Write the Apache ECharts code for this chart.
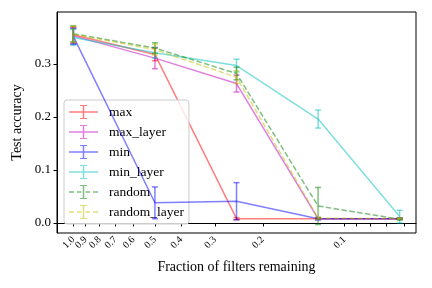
<!DOCTYPE html>
<html>
<head>
<meta charset="utf-8">
<script src="https://cdn.jsdelivr.net/npm/echarts@6/dist/echarts.min.js"></script>
<style>html,body{margin:0;padding:0;background:#fff}#c{width:432px;height:288px}</style>
</head>
<body>
<div id="c"></div>
<script>
const fractions = [1, 0.5, 0.25, 0.125, 0.0625];
const seriesNames = ['max', 'max_layer', 'min', 'min_layer', 'random', 'random_layer'];
const maxVals = [0.355, 0.318, 0.008, 0.008, 0.008];
const maxErr = [0.015, 0.012, 0.002, 0.001, 0.001];
const maxLayerVals = [0.353, 0.311, 0.263, 0.008, 0.008];
const maxLayerErr = [0.015, 0.020, 0.016, 0.002, 0.001];
const minVals = [0.352, 0.038, 0.041, 0.008, 0.008];
const minErr = [0.015, 0.030, 0.035, 0.002, 0.001];
const minLayerVals = [0.350, 0.321, 0.297, 0.196, 0.012];
const minLayerErr = [0.015, 0.010, 0.012, 0.017, 0.012];
const randomVals = [0.357, 0.330, 0.282, 0.032, 0.007];
const randomErr = [0.015, 0.010, 0.012, 0.035, 0.002];
const randomLayerVals = [0.356, 0.327, 0.275, 0.009, 0.008];
const randomLayerErr = [0.015, 0.010, 0.012, 0.002, 0.001];
const xTickValues = [1.0, 0.9, 0.8, 0.7, 0.6, 0.5, 0.4, 0.3, 0.2, 0.1, 0.09, 0.08, 0.07, 0.06];
const xLabelValuesA = [1.0, 0.8, 0.6, 0.4, 0.2];
const xLabelValuesB = [0.9, 0.7, 0.5, 0.3, 0.1];
const yTickValues = [0.0, 0.1, 0.2, 0.3];

const allVals = [maxVals, maxLayerVals, minVals, minLayerVals, randomVals, randomLayerVals];
const allErr = [maxErr, maxLayerErr, minErr, minLayerErr, randomErr, randomLayerErr];
const colors = ['rgba(255,0,0,0.5)', 'rgba(191,0,191,0.5)', 'rgba(0,0,255,0.5)',
                'rgba(0,191,191,0.5)', 'rgba(0,128,0,0.5)', 'rgba(191,191,0,0.5)'];
const dashed = [false, false, false, false, true, true];

const solidIcon = 'path://M0 6.25h29v1.5h-29z M13.75 0h1.5v14h-1.5z M11 0h7v1h-7z M11 13h7v1h-7z';
const dashIcon = 'path://M0 6.25h5v1.5h-5z M8 6.25h4.5v1.5h-4.5z M16.5 6.25h4.5v1.5h-4.5z M24 6.25h5v1.5h-5z M13.75 0h1.5v14h-1.5z M11 0h7v1h-7z M11 13h7v1h-7z';

const font = 'Liberation Serif';
const series = [];
seriesNames.forEach((name, i) => {
  series.push({
    name: name + '__line',
    type: 'line',
    xAxisIndex: 0,
    data: fractions.map((f, j) => [f, allVals[i][j]]),
    symbol: 'none',
    color: colors[i],
    lineStyle: { color: colors[i], width: 1.5, type: dashed[i] ? [5.5, 2.4] : 'solid' },
    z: 2 + i * 2,
    silent: true,
    animation: false
  });
  series.push({
    name: name,
    type: 'custom',
    xAxisIndex: 0,
    data: fractions.map((f, j) => [f, allVals[i][j], allErr[i][j]]),
    encode: { x: 0, y: 1 },
    itemStyle: { color: colors[i] },
    color: colors[i],
    z: 3 + i * 2,
    animation: false,
    renderItem: function (params, api) {
      const x = api.value(0), y = api.value(1), e = api.value(2);
      const t = api.coord([x, y + e]);
      const b = api.coord([x, y - e]);
      const st = { stroke: colors[i], lineWidth: 1.5, fill: null };
      return {
        type: 'group',
        children: [
          { type: 'line', shape: { x1: t[0], y1: t[1], x2: b[0], y2: b[1] }, style: st },
          { type: 'line', shape: { x1: t[0] - 3, y1: t[1], x2: t[0] + 3, y2: t[1] }, style: st },
          { type: 'line', shape: { x1: b[0] - 3, y1: b[1], x2: b[0] + 3, y2: b[1] }, style: st }
        ]
      };
    }
  });
});

const xLabelBase = { show: true, rotate: 45, fontFamily: font, fontSize: 10, color: '#000', margin: 5,
                     formatter: v => Number(v).toFixed(1) };

const chart = echarts.init(document.getElementById('c'), null, { renderer: 'canvas' });
chart.setOption({
  animation: false,
  backgroundColor: '#fff',
  grid: { left: 57, right: 16, top: 12, bottom: 55, containLabel: false, outerBoundsMode: 'none',
          show: true, borderColor: '#000', borderWidth: 1, backgroundColor: 'transparent' },
  xAxis: [{
    type: 'log', logBase: 10, inverse: true, min: 0.0544, max: 1.149, position: 'bottom',
    name: 'Fraction of filters remaining', nameLocation: 'middle', nameGap: 27,
    nameTextStyle: { fontFamily: font, fontSize: 14, color: '#000' },
    axisLine: { show: true, lineStyle: { color: '#000', width: 1 } },
    axisTick: { show: true, length: 3.5, lineStyle: { color: '#000' }, customValues: xTickValues },
    axisLabel: Object.assign({ customValues: xLabelValuesA }, xLabelBase),
    splitLine: { show: false }, minorTick: { show: false }, minorSplitLine: { show: false }
  }, {
    type: 'log', logBase: 10, inverse: true, min: 0.0544, max: 1.149, position: 'bottom', offset: 0,
    axisLine: { show: false },
    axisTick: { show: false },
    axisLabel: Object.assign({ customValues: xLabelValuesB }, xLabelBase),
    splitLine: { show: false }, minorTick: { show: false }, minorSplitLine: { show: false }
  }],
  yAxis: {
    type: 'value', min: -0.019, max: 0.398,
    name: 'Test accuracy', nameLocation: 'middle', nameGap: 31,
    nameTextStyle: { fontFamily: font, fontSize: 14, color: '#000' },
    axisLine: { show: true, lineStyle: { color: '#000', width: 1 } },
    axisTick: { show: true, length: 3.5, lineStyle: { color: '#000' }, customValues: yTickValues },
    axisLabel: { show: true, fontFamily: font, fontSize: 13, color: '#000', margin: 6,
                 customValues: yTickValues, formatter: v => Number(v).toFixed(1) },
    splitLine: { show: false }
  },
  legend: {
    orient: 'vertical', left: 64, top: 100,
    data: seriesNames.map((n, i) => ({ name: n, icon: dashed[i] ? dashIcon : solidIcon })),
    itemWidth: 29, itemHeight: 14, itemGap: 6,
    padding: [5, 5, 5, 5],
    borderColor: '#ccc', borderWidth: 1, borderRadius: 3,
    backgroundColor: 'rgba(255,255,255,0.8)',
    itemStyle: { borderWidth: 0 },
    textStyle: { fontFamily: font, fontSize: 13.5, color: '#000', padding: [0, 0, 0, 6] },
    selectedMode: false
  },
  series: series
});
</script>
</body>
</html>
